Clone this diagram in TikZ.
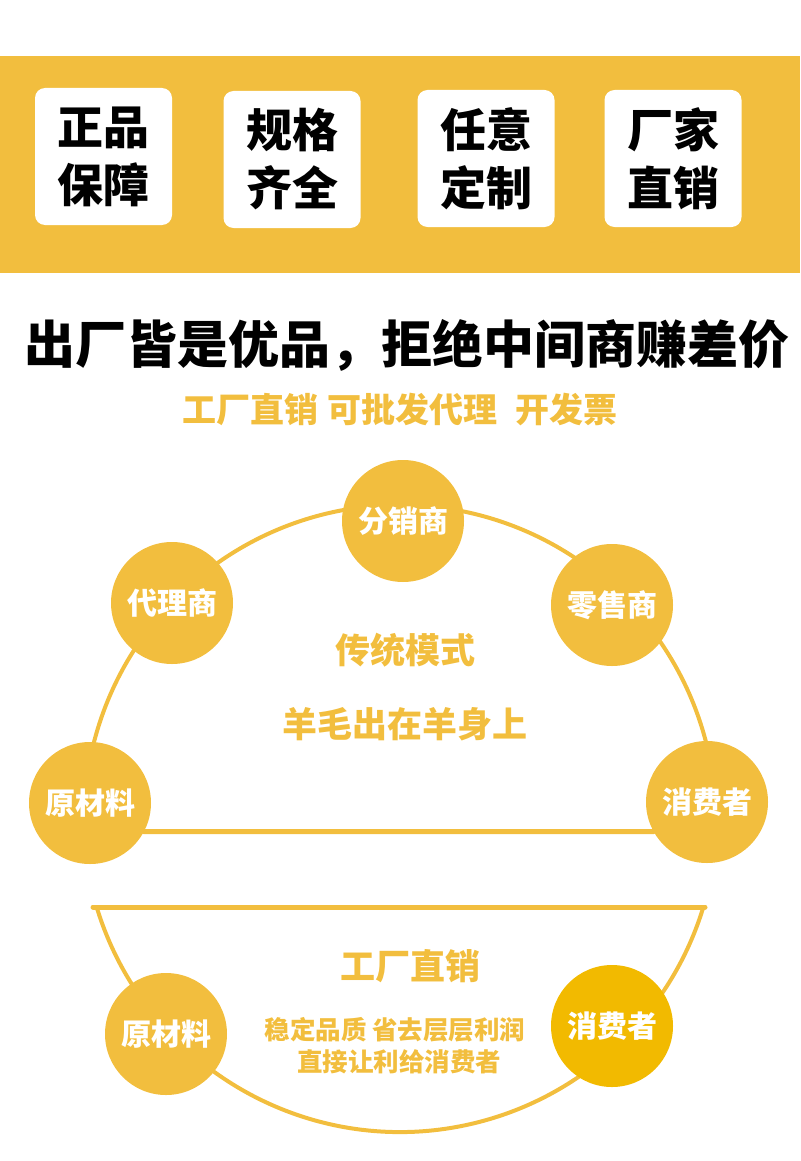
\documentclass[tikz,border=0pt]{standalone}
\usepackage{fontspec}
\setmainfont{Noto Sans CJK SC}
\definecolor{huang}{HTML}{F2BE3E}
\definecolor{shenhuang}{HTML}{F2BA00}
\tikzset{
  kuang/.style={rectangle,rounded corners=10pt,fill=white,minimum width=137pt,minimum height=137pt,
    align=center,font=\bfseries\fontsize{46}{58}\selectfont},
  yuan/.style={circle,fill=huang,minimum size=122pt,inner sep=0pt,text=white,
    font=\bfseries\fontsize{30}{30}\selectfont},
  xian/.style={draw=huang,line width=5pt},
  huxian/.style={draw=huang,line width=4pt},
  zi/.style={text=huang,font=\bfseries\fontsize{35}{35}\selectfont},
  xiaozi/.style={text=huang,font=\bfseries\fontsize{25.5}{25.5}\selectfont}
}
\begin{document}
\begin{tikzpicture}[x=1pt,y=-1pt,line cap=round,line join=round]
  \useasboundingbox (0,0) rectangle (800,1161);
  % top band
  \fill[huang] (0,56) rectangle (800,273);
  \node[kuang] (zpbz) at (103.5,156.5) {正品\\保障};
  \node[kuang] (ggqq) at (292,159.5) {规格\\齐全};
  \node[kuang] (rydz) at (486,158.5) {任意\\定制};
  \node[kuang] (cjzx) at (673,158.5) {厂家\\直销};

  \node[font=\bfseries\fontsize{51}{51}\selectfont] (bt) at (407,345) {出厂皆是优品，拒绝中间商赚差价};
  \node[text=huang,font=\bfseries\fontsize{34}{34}\selectfont] (fbt) at (400,410)
    {工厂直销\hspace{9pt}可批发代理\hspace{18pt}开发票};

  % traditional mode
  \draw[huxian] (400,821) ++(194:316) arc[start angle=194,end angle=346,radius=316];
  \node[yuan] (fxs) at (403,521) {分销商};
  \node[yuan] (dls) at (172,603) {代理商};
  \node[yuan] (lss) at (612,605) {零售商};
  \node[yuan] (ycl) at (90,803) {原材料};
  \node[yuan] (xfz) at (707,802) {消费者};
  \draw[xian] (ycl.-28) -- (xfz.209);
  \node[zi] (ctms) at (405,650) {传统模式};
  \node[zi] (ymcz) at (405,724) {羊毛出在羊身上};

  % factory direct
  \draw[xian] (93,907) -- (705,907);
  \draw[huxian] (400,815) ++(163:317) arc[start angle=163,end angle=17,radius=317];
  \node[yuan] (ycl2) at (166,1034) {原材料};
  \node[yuan,fill=shenhuang] (xfz2) at (612,1026) {消费者};
  \node[zi] (gczx) at (410,966) {工厂直销};
  \node[xiaozi] (wdpz) at (395,1030) {稳定品质 省去层层利润};
  \node[xiaozi] (zjrl) at (399,1062) {直接让利给消费者};
\end{tikzpicture}
\end{document}
